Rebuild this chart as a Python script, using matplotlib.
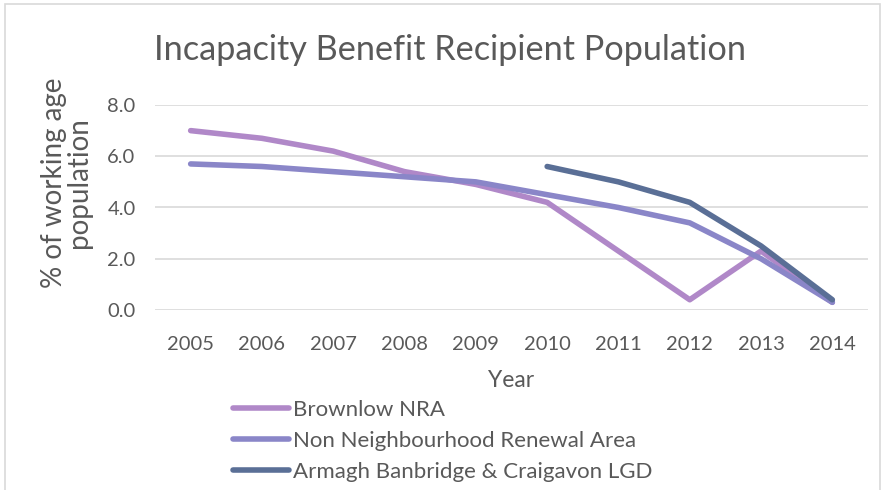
import matplotlib.pyplot as plt
from matplotlib.patches import Rectangle

plt.rcParams['font.family'] = ['Lato', 'DejaVu Sans']

years = ['2005', '2006', '2007', '2008', '2009', '2010', '2011', '2012', '2013', '2014']
brownlow = [7.0, 6.7, 6.2, 5.4, 4.9, 4.2, 2.3, 0.4, 2.3, 0.3]
non_nra = [5.7, 5.6, 5.4, 5.2, 5.0, 4.5, 4.0, 3.4, 2.0, 0.3]
lgd_years = ['2010', '2011', '2012', '2013', '2014']
lgd = [5.6, 5.0, 4.2, 2.5, 0.4]

txt = '#595959'

fig = plt.figure(figsize=(8.84, 4.9), dpi=100)
ax = fig.add_axes([155 / 884, 1 - 310 / 490, (868 - 155) / 884, (310 - 105) / 490])

x = list(range(len(years)))
x_lgd = [years.index(y) for y in lgd_years]

ax.plot(x, brownlow, color='#B088C8', lw=4, solid_capstyle='round', label='Brownlow NRA')
ax.plot(x, non_nra, color='#8A86C8', lw=4, solid_capstyle='round', label='Non Neighbourhood Renewal Area')
ax.plot(x_lgd, lgd, color='#5A6F96', lw=4, solid_capstyle='round', label='Armagh Banbridge & Craigavon LGD')

ax.set_xlim(-0.5, len(years) - 0.5)
ax.set_ylim(0, 8)
ax.set_yticks([0, 2, 4, 6, 8])
ax.set_yticklabels([f'{v:.1f}' for v in [0, 2, 4, 6, 8]])
ax.set_xticks(x)
ax.set_xticklabels(years)
ax.tick_params(length=0, labelsize=14.5, colors=txt, pad=19)
ax.tick_params(axis='y', pad=14)
ax.grid(axis='y', color='#D9D9D9', lw=1.2)
ax.set_axisbelow(True)
for s in ax.spines.values():
    s.set_visible(False)
for line in ax.lines:
    line.set_clip_on(False)

ax.set_xlabel('Year', fontsize=16.5, color=txt, labelpad=12)
ax.set_ylabel('% of working age\npopulation', fontsize=20, color=txt, linespacing=0.95)
ax.yaxis.set_label_coords(-0.088, 0.62)
fig.text(450 / 884, 1 - 50 / 490, 'Incapacity Benefit Recipient Population',
         fontsize=24.7, color=txt, ha='center', va='center')

fig.legend(loc='upper left', bbox_to_anchor=(233 / 884, 1 - 400 / 490), frameon=False,
           fontsize=16, labelcolor=txt, handlelength=2.5, handletextpad=0.18,
           labelspacing=0.5, borderpad=0, borderaxespad=0)

fig.patches.append(Rectangle((5 / 884, -0.1), 875 / 884, 1.1 - 4 / 490, transform=fig.transFigure,
                             fill=False, edgecolor='#D9D9D9', lw=1.2))

fig.savefig('out.png', dpi=100)
